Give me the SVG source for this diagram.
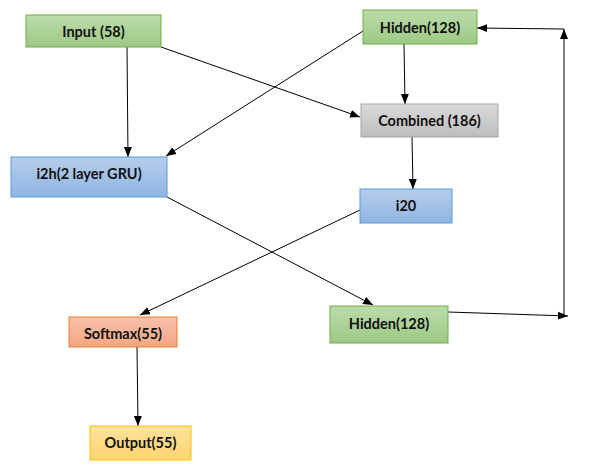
<svg xmlns="http://www.w3.org/2000/svg" width="592" height="474" viewBox="0 0 592 474">
<style>
.box{stroke-width:1}
.lbl{font-family:Lato,"Liberation Sans",sans-serif;font-weight:bold;font-size:14.5px;fill:#111;text-anchor:middle}
.c{stroke:#000;stroke-width:1;fill:none;marker-end:url(#ah)}
</style>
<defs>
<linearGradient id="gG" x1="0" y1="0" x2="0" y2="1"><stop offset="0" stop-color="#bcdcab"/><stop offset="1" stop-color="#9dc985"/></linearGradient>
<linearGradient id="gB" x1="0" y1="0" x2="0" y2="1"><stop offset="0" stop-color="#b5cdeb"/><stop offset="1" stop-color="#90b5e2"/></linearGradient>
<linearGradient id="gS" x1="0" y1="0" x2="0" y2="1"><stop offset="0" stop-color="#dadada"/><stop offset="1" stop-color="#bdbdbd"/></linearGradient>
<linearGradient id="gO" x1="0" y1="0" x2="0" y2="1"><stop offset="0" stop-color="#f8c3ab"/><stop offset="1" stop-color="#f4a582"/></linearGradient>
<linearGradient id="gY" x1="0" y1="0" x2="0" y2="1"><stop offset="0" stop-color="#ffe2a0"/><stop offset="1" stop-color="#ffd46e"/></linearGradient>
<marker id="ah" markerUnits="userSpaceOnUse" markerWidth="10" markerHeight="10" viewBox="0 0 10 10" refX="10" refY="5" orient="auto"><path d="M0,1 L10,5 L0,9 Z" fill="#000"/></marker>
</defs>
<g id="connectors">
<line class="c" x1="127" y1="47" x2="128" y2="157"/>
<line class="c" x1="161" y1="47" x2="360" y2="117"/>
<line class="c" x1="363" y1="31" x2="166" y2="156"/>
<line class="c" x1="404" y1="44" x2="405" y2="104"/>
<line class="c" x1="412" y1="137" x2="413" y2="189"/>
<line class="c" x1="360" y1="210" x2="140" y2="315"/>
<line class="c" x1="167" y1="197" x2="373" y2="305"/>
<line class="c" x1="448" y1="312" x2="568" y2="316"/>
<line class="c" x1="564" y1="316" x2="564" y2="29"/>
<line class="c" x1="564" y1="29" x2="477" y2="28"/>
<line class="c" x1="137" y1="347" x2="138" y2="426"/>
</g>
<g id="input"><rect class="box" x="26" y="15" width="135" height="32" fill="url(#gG)" stroke="#70ad47"/><text class="lbl" x="93.5" y="37">Input (58)</text></g>
<g id="hidden-top"><rect class="box" x="363" y="10" width="114" height="34" fill="url(#gG)" stroke="#70ad47"/><text class="lbl" x="420" y="32.5">Hidden(128)</text></g>
<g id="combined"><rect class="box" x="361" y="104" width="137" height="33" fill="url(#gS)" stroke="#a5a5a5"/><text class="lbl" x="429.5" y="126">Combined (186)</text></g>
<g id="i2h"><rect class="box" x="11" y="157" width="156" height="40" fill="url(#gB)" stroke="#5b9bd5"/><text class="lbl" x="89" y="179">i2h(2 layer GRU)</text></g>
<g id="i20"><rect class="box" x="360" y="189" width="92" height="34" fill="url(#gB)" stroke="#5b9bd5"/><text class="lbl" x="406" y="211">i20</text></g>
<g id="hidden-bottom"><rect class="box" x="330" y="306" width="118" height="37" fill="url(#gG)" stroke="#70ad47"/><text class="lbl" x="389" y="329">Hidden(128)</text></g>
<g id="softmax"><rect class="box" x="69" y="317" width="108" height="30" fill="url(#gO)" stroke="#ed7d31"/><text class="lbl" x="123" y="338.5">Softmax(55)</text></g>
<g id="output"><rect class="box" x="90" y="426" width="101" height="34" fill="url(#gY)" stroke="#ffc000"/><text class="lbl" x="140.5" y="447.5">Output(55)</text></g>
</svg>
